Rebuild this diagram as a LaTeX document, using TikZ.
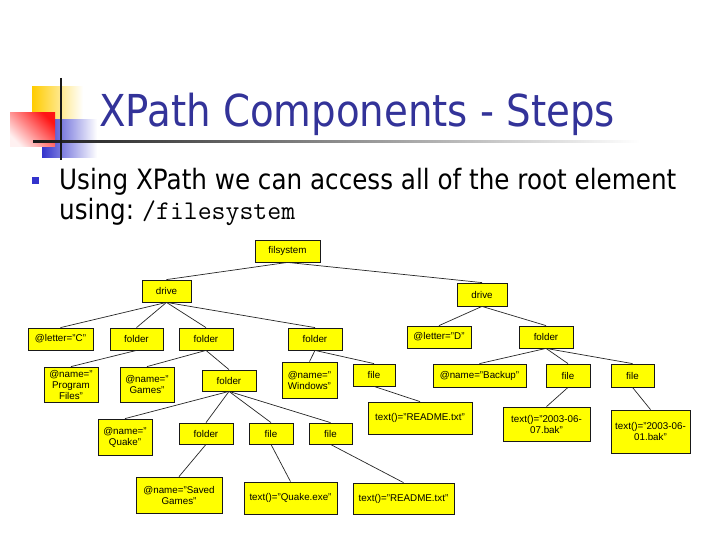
\documentclass[tikz,border=0pt]{standalone}
\usepackage{fontspec}
\setmainfont{Liberation Sans}
\newfontfamily\tahoma{DejaVu Sans}
\usepackage{graphicx}
\definecolor{titleblue}{RGB}{51,51,153}
\definecolor{bulletblue}{RGB}{51,51,204}
\definecolor{logoyellow}{RGB}{255,204,0}
\definecolor{logoblue}{RGB}{51,51,204}
\definecolor{logored}{RGB}{255,20,20}
\definecolor{boxyellow}{RGB}{255,255,0}
\begin{document}
\begin{tikzpicture}[x=1pt,y=-1pt,
  box/.style={draw=black!90, fill=boxyellow, line width=0.8pt, inner sep=0pt,
    align=center, font=\fontsize{9.8}{11}\selectfont},
  link/.style={draw=black!85, line width=0.7pt},
  slidetext/.style={anchor=base west, inner sep=0pt}]
\useasboundingbox[fill=white] (0,0) rectangle (720,540);
% logo
\shade[left color=logoyellow, middle color=logoyellow, right color=white] (32,87) rectangle (83,120);
\shade[left color=logoblue, middle color=logoblue, right color=white] (42,120) rectangle (97,158);
\shade[top color=logored, bottom color=logored!6, shading angle=-45] (10,113) rectangle (55,147);
\shade[left color=black!90, middle color=black!45, right color=white] (33,141) rectangle (640,143);
\draw[line width=2pt, black!90] (61,78) -- (61,160);
% title and text
\node[slidetext, text=titleblue, font=\tahoma\fontsize{44}{50}\selectfont] (title) at (99,127)
  {\scalebox{0.88}[1]{XPath Components - Steps}};
\node[fill=bulletblue, minimum size=7pt, inner sep=0pt] (bullet) at (35.5,181) {};
\node[slidetext, font=\tahoma\fontsize{28}{32}\selectfont] (l1) at (59,190)
  {\scalebox{0.88}[1]{Using XPath we can access all of the root element}};
\node[slidetext, font=\tahoma\fontsize{28}{32}\selectfont] (l2) at (59,219)
  {\scalebox{0.88}[1]{using:}};
\node[slidetext, font=\ttfamily\fontsize{27}{30}\selectfont] (path) at (142,219) {/filesystem};
% tree
\node[box, minimum width=65pt, minimum height=22pt] (fs) at (287.5,251) {filsystem};
\node[box, minimum width=49pt, minimum height=22pt] (d1) at (166.5,291) {drive};
\node[box, minimum width=65pt, minimum height=22pt] (lc) at (60.5,339) {@letter="C"};
\node[box, minimum width=53pt, minimum height=22pt] (f1) at (136.5,339) {folder};
\node[box, minimum width=54pt, minimum height=22pt] (f2) at (206,339) {folder};
\node[box, minimum width=54pt, minimum height=22pt] (f3) at (315,339) {folder};
\node[box, minimum width=50pt, minimum height=23pt] (d2) at (482,294.5) {drive};
\node[box, minimum width=64pt, minimum height=22pt] (ld) at (439,337) {@letter="D"};
\node[box, minimum width=54pt, minimum height=22pt] (f4) at (546,337) {folder};
\node[box, minimum width=54pt, minimum height=35pt] (pf) at (71,384.5) {@name="\\Program\\Files"};
\node[box, minimum width=54pt, minimum height=35pt] (gm) at (147,384.5) {@name="\\Games"};
\node[box, minimum width=54pt, minimum height=21pt] (f5) at (229,380.5) {folder};
\node[box, minimum width=55pt, minimum height=36pt] (wn) at (309.5,380) {@name="\\Windows"};
\node[box, minimum width=42pt, minimum height=22pt] (fl1) at (374,375) {file};
\node[box, minimum width=93pt, minimum height=23pt] (bk) at (479.5,375.5) {@name="Backup"};
\node[box, minimum width=44pt, minimum height=23pt] (fl2) at (568,375.5) {file};
\node[box, minimum width=43pt, minimum height=23pt] (fl3) at (632.5,375.5) {file};
\node[box, minimum width=104pt, minimum height=32pt] (rd1) at (420,418) {text()="README.txt"};
\node[box, minimum width=87pt, minimum height=34pt] (bk1) at (546.5,424) {text()="2003-06-\\07.bak"};
\node[box, minimum width=79pt, minimum height=43pt] (bk2) at (650.5,431.5) {text()="2003-06-\\01.bak"};
\node[box, minimum width=54pt, minimum height=36pt] (qk) at (125,437) {@name="\\Quake"};
\node[box, minimum width=54pt, minimum height=21pt] (f6) at (206,433.5) {folder};
\node[box, minimum width=44pt, minimum height=21pt] (fl4) at (271,433.5) {file};
\node[box, minimum width=43pt, minimum height=21pt] (fl5) at (330.5,433.5) {file};
\node[box, minimum width=86pt, minimum height=36pt] (sg) at (179,495) {@name="Saved\\Games"};
\node[box, minimum width=93pt, minimum height=32pt] (qe) at (290.5,498) {text()="Quake.exe"};
\node[box, minimum width=101pt, minimum height=31pt] (rd2) at (403.5,498.5) {text()="README.txt"};
% connectors
\foreach \p/\c in {fs/d1, fs/d2, d1/lc, d1/f1, d1/f2, d1/f3, f1/pf, f2/gm, f2/f5,
  f3/wn, f3/fl1, fl1/rd1, d2/ld, d2/f4, f4/bk, f4/fl2, f4/fl3, fl2/bk1, fl3/bk2,
  f5/qk, f5/f6, f5/fl4, f5/fl5, f6/sg, fl4/qe, fl5/rd2}
  \draw[link] (\p.south) -- (\c.north);
\end{tikzpicture}
\end{document}
